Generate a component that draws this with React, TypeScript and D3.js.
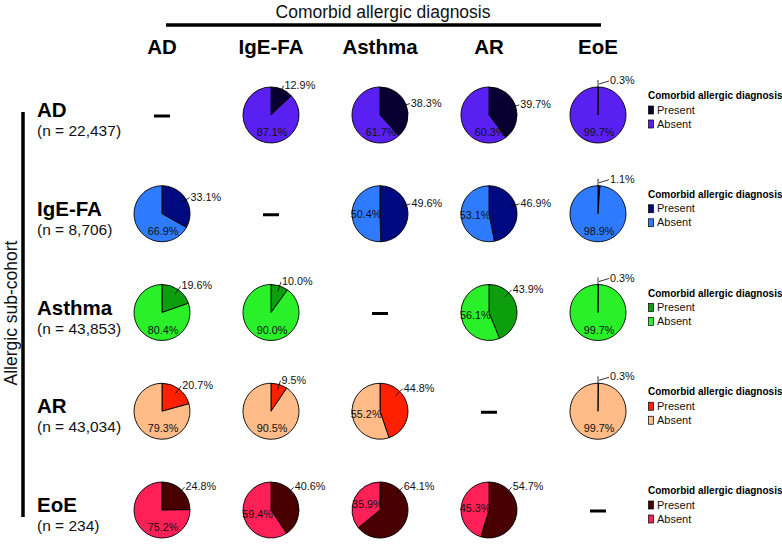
import React from "react";
import * as d3 from "d3";

// ---- data ----
const diagnoses = ["AD", "IgE-FA", "Asthma", "AR", "EoE"];
const cohortN = ["22,437", "8,706", "43,853", "43,034", "234"];
// % of each sub-cohort (row) with the comorbid diagnosis (column); null = same diagnosis
const presentAD = [null, 12.9, 38.3, 39.7, 0.3];
const presentIgEFA = [33.1, null, 49.6, 46.9, 1.1];
const presentAsthma = [19.6, 10.0, null, 43.9, 0.3];
const presentAR = [20.7, 9.5, 44.8, null, 0.3];
const presentEoE = [24.8, 40.6, 64.1, 54.7, null];
const presentColors = ["#080030", "#000a80", "#0c9e0c", "#ff2000", "#480000"];
const absentColors = ["#5a20f2", "#2e7bff", "#2af02a", "#ffbb88", "#ff2058"];
const legendTitle = "Comorbid allergic diagnosis";
const legendKeys = ["Present", "Absent"];

const present = [presentAD, presentIgEFA, presentAsthma, presentAR, presentEoE];

const FONT = "'Liberation Sans', Arial, Helvetica, sans-serif";
const R = 28;

export default function App() {
  const x = d3.scalePoint<string>().domain(diagnoses).range([162, 598]);
  const y = d3.scalePoint<string>().domain(diagnoses).range([115, 510]);
  const arc = d3.arc<d3.PieArcDatum<number>>().innerRadius(0).outerRadius(R);
  const pie = d3.pie<number>().sort(null).value((d) => d);
  const rad = Math.PI / 180;

  const cells: React.ReactNode[] = [];
  diagnoses.forEach((row, ri) => {
    const cy = y(row)!;
    diagnoses.forEach((col, ci) => {
      const cx = x(col)!;
      const p = present[ri][ci];
      const key = `${ri}-${ci}`;
      if (p === null) {
        cells.push(
          <line key={key} x1={cx - 8} x2={cx + 8} y1={cy + 1} y2={cy + 1} stroke="#000" strokeWidth={3} />
        );
        return;
      }
      const a = +(100 - p).toFixed(1);
      const arcs = pie([p, a]);
      // present label
      let leader: React.ReactNode;
      let tx: number, ty: number;
      if (p < 3) {
        tx = cx + 12;
        ty = cy - R - 3;
        leader = (
          <g>
            <line x1={cx} y1={cy - R} x2={cx} y2={cy - R - 7} stroke="#000" strokeWidth={0.8} />
            <line x1={cx + 1} y1={cy - R - 3} x2={cx + 11} y2={cy - R - 6} stroke="#000" strokeWidth={0.8} />
          </g>
        );
      } else {
        const mid = p * 1.8;
        const th = (mid <= 72 ? mid : mid > 82 && mid <= 95 ? 72 : 45) * rad;
        const ax = cx + 32 * Math.sin(th);
        const ay = cy - 32 * Math.cos(th);
        const sx = cx + 0.8 * R * Math.sin(th);
        const sy = cy - 0.8 * R * Math.cos(th);
        tx = ax + 1;
        ty = ay + 3;
        leader = <line x1={sx} y1={sy} x2={ax} y2={ay} stroke="#000" strokeWidth={0.8} />;
      }
      // absent label
      let axl: number, ayl: number;
      if (a >= 60) {
        axl = cx + 1;
        ayl = cy + 21;
      } else {
        const m = (arcs[1].startAngle + arcs[1].endAngle) / 2;
        axl = cx + 14 * Math.sin(m);
        ayl = cy - 14 * Math.cos(m) + 4;
      }
      cells.push(
        <g key={key}>
          <g transform={`translate(${cx},${cy})`}>
            {arcs.map((d, i) => (
              <path
                key={i}
                d={arc(d) || ""}
                fill={i === 0 ? presentColors[ri] : absentColors[ri]}
                stroke="#000"
                strokeWidth={0.9}
              />
            ))}
          </g>
          {leader}
          <text x={tx} y={ty} fontSize={10.8} fontFamily={FONT} fill="#111">
            {p.toFixed(1)}%
          </text>
          <text x={axl} y={ayl} fontSize={10.8} fontFamily={FONT} fill="#111" textAnchor="middle">
            {a.toFixed(1)}%
          </text>
        </g>
      );
    });
  });

  return (
    <div style={{ position: "absolute", left: 0, top: 0 }}>
      <svg width={782} height={544} style={{ display: "block", background: "#fff" }}>
        <text x={383} y={18} fontSize={17.5} fontFamily={FONT} textAnchor="middle" fill="#111">
          Comorbid allergic diagnosis
        </text>
        <line x1={166} x2={601} y1={25} y2={25} stroke="#000" strokeWidth={3.5} />
        {diagnoses.map((d) => (
          <text key={d} x={x(d)} y={54} fontSize={20.5} fontWeight="bold" fontFamily={FONT} textAnchor="middle" fill="#000">
            {d}
          </text>
        ))}
        <line x1={23} x2={23} y1={112} y2={517} stroke="#000" strokeWidth={3.5} />
        <text
          transform="translate(17,313) rotate(-90)"
          fontSize={17.5}
          fontFamily={FONT}
          textAnchor="middle"
          fill="#111"
        >
          Allergic sub-cohort
        </text>
        {diagnoses.map((d, i) => (
          <g key={d}>
            <text x={37} y={y(d)! + 2} fontSize={20.5} fontWeight="bold" fontFamily={FONT} fill="#000">
              {d}
            </text>
            <text x={37} y={y(d)! + 21} fontSize={15.5} fontFamily={FONT} fill="#111">
              (n = {cohortN[i]})
            </text>
            <g transform={`translate(648,${y(d)!})`}>
              <text x={0} y={-16} fontSize={10} fontWeight="bold" fontFamily={FONT} fill="#000">
                {legendTitle}
              </text>
              {legendKeys.map((k, ki) => (
                <g key={k}>
                  <rect
                    x={0.5}
                    y={-9 + ki * 14}
                    width={5}
                    height={8}
                    fill={ki === 0 ? presentColors[i] : absentColors[i]}
                    stroke="#000"
                    strokeWidth={0.7}
                  />
                  <text x={9} y={-1.5 + ki * 14} fontSize={11} fontFamily={FONT} fill="#111">
                    {k}
                  </text>
                </g>
              ))}
            </g>
          </g>
        ))}
        {cells}
      </svg>
    </div>
  );
}
